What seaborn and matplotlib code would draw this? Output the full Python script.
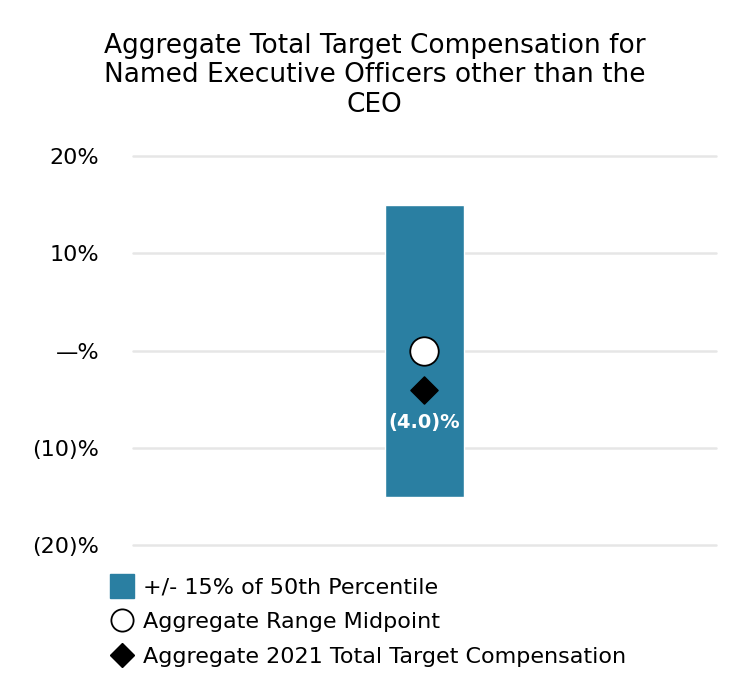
import matplotlib
matplotlib.use("Agg")
import matplotlib.pyplot as plt
from matplotlib.lines import Line2D
from matplotlib.ticker import FuncFormatter
import seaborn as sns
import pandas as pd

# chart values
groups = ["NEO"]
range_low = [-15.0]
range_high = [15.0]
midpoint = [0.0]
actual = [-4.0]
actual_labels = ["(4.0)%"]
y_ticks = [-20, -10, 0, 10, 20]

bar_color = "#2a7fa2"


def pct_label(v, pos=None):
    if v > 0:
        return f"{v:.0f}%"
    if v < 0:
        return f"({abs(v):.0f})%"
    return "\u2014%"


sns.set_theme(style="white")
plt.rcParams["font.family"] = ["DejaVu Sans"]
plt.rcParams["text.color"] = "black"

df = pd.DataFrame({
    "group": groups,
    "low": range_low,
    "high": range_high,
    "mid": midpoint,
    "actual": actual,
})

fig = plt.figure(figsize=(7.46, 7.0), dpi=100)
ax = fig.add_axes([0.178, 0.221, 0.782, 0.556])

xpos = list(range(len(groups)))
ax.bar(xpos, df["high"] - df["low"], bottom=df["low"], width=0.137,
       color=bar_color, zorder=2)

sns.scatterplot(x=xpos, y=df["mid"], ax=ax, marker="o", s=420,
                color="white", edgecolor="black", linewidth=1.3, zorder=4,
                legend=False)
sns.scatterplot(x=xpos, y=df["actual"], ax=ax, marker="D", s=190,
                color="black", edgecolor="black", zorder=4, legend=False)

for x, y, lab in zip(xpos, df["actual"], actual_labels):
    ax.annotate(lab, (x, y), xytext=(0, -24), textcoords="offset points",
                ha="center", va="center", color="white", fontsize=14,
                fontweight="bold", zorder=5)

ax.set_xlim(-0.5, 0.5)
ax.set_ylim(-20, 20)
ax.set_yticks(y_ticks)
ax.yaxis.set_major_formatter(FuncFormatter(pct_label))
ax.set_xticks([])
ax.tick_params(axis="y", length=0, pad=24, labelsize=16, colors="black")
ax.grid(axis="y", color="#e6e6e6", linewidth=1.8, zorder=0)
for gl in ax.get_ygridlines():
    gl.set_clip_on(False)
ax.set_axisbelow(True)
for s in ax.spines.values():
    s.set_visible(False)
ax.set_xlabel("")
ax.set_ylabel("")

fig.text(0.502, 0.953, "Aggregate Total Target Compensation for\n"
         "Named Executive Officers other than the\nCEO",
         ha="center", va="top", fontsize=19, linespacing=1.18,
         color="black")

handles = [
    Line2D([], [], marker="s", linestyle="none", markersize=17,
           markerfacecolor=bar_color, markeredgecolor=bar_color),
    Line2D([], [], marker="o", linestyle="none", markersize=16,
           markerfacecolor="white", markeredgecolor="black", markeredgewidth=1.3),
    Line2D([], [], marker="D", linestyle="none", markersize=12,
           markerfacecolor="black", markeredgecolor="black"),
]
labels = ["+/- 15% of 50th Percentile", "Aggregate Range Midpoint",
          "Aggregate 2021 Total Target Compensation"]
fig.legend(handles, labels, loc="upper left", bbox_to_anchor=(0.148, 0.175),
           frameon=False, fontsize=16, handlelength=1.0, handletextpad=0.45,
           labelspacing=0.66, borderaxespad=0, borderpad=0)

fig.savefig("out.png", dpi=100)
